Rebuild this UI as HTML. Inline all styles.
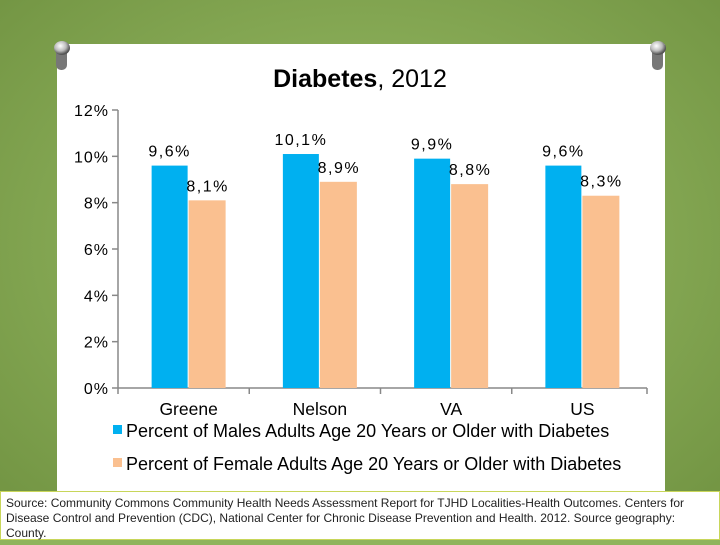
<!DOCTYPE html>
<html><head><meta charset="utf-8"><style>
body{margin:0;width:720px;height:540px;overflow:hidden;background:#8fb45c;font-family:"Liberation Sans",sans-serif}
</style></head><body>
<svg width="720" height="540" viewBox="0 0 720 540">
<defs>
<radialGradient id="bg" cx="50%" cy="45%" r="75%"><stop offset="0" stop-color="#9cc068"/><stop offset="1" stop-color="#6f9140"/></radialGradient>
<radialGradient id="pin" cx="40%" cy="35%" r="60%"><stop offset="0" stop-color="#fff"/><stop offset="0.6" stop-color="#bbb"/><stop offset="1" stop-color="#555"/></radialGradient>
</defs>
<rect width="720" height="540" fill="url(#bg)"/>
<rect x="60" y="496" width="610" height="10" fill="#3d4d25" opacity="0.5"/>
<rect x="57" y="44" width="608" height="450" fill="#fff"/>
<g><rect x="56" y="48" width="11" height="22" rx="5" fill="#777"/><ellipse cx="62" cy="48" rx="8" ry="7" fill="url(#pin)"/></g>
<g><rect x="652" y="48" width="11" height="22" rx="5" fill="#777"/><ellipse cx="658" cy="48" rx="8" ry="7" fill="url(#pin)"/></g>
<text x="360" y="87" text-anchor="middle" font-size="25" fill="#000"><tspan font-weight="bold">Diabetes</tspan>, 2012</text>
<g id="axes"></g>
<g id="bars"></g>
<g>
<rect x="113" y="425" width="9" height="9" fill="#00b0f0"/>
<text x="126" y="437" font-size="18" fill="#000">Percent of Males Adults Age 20 Years or Older with Diabetes</text>
<rect x="113" y="458" width="9" height="9" fill="#fac090"/>
<text x="126" y="470" font-size="18" fill="#000">Percent of Female Adults Age 20 Years or Older with Diabetes</text>
</g>
<rect x="0.5" y="491.5" width="719" height="48" fill="#fff" stroke="#c8d65a"/>
<text font-size="12" fill="#222"><tspan x="6" y="507">Source: Community Commons Community Health Needs Assessment Report for TJHD Localities-Health Outcomes. Centers for</tspan><tspan x="6" y="522">Disease Control and Prevention (CDC), National Center for Chronic Disease Prevention and Health. 2012. Source geography:</tspan><tspan x="6" y="537">County.</tspan></text>
</svg>
<script>
const categories=["Greene","Nelson","VA","US"];
const maleValues=[9.6,10.1,9.9,9.6];
const femaleValues=[8.1,8.9,8.8,8.3];
const maleLabels=["9,6%","10,1%","9,9%","9,6%"];
const femaleLabels=["8,1%","8,9%","8,8%","8,3%"];
const yTicks=[0,2,4,6,8,10,12];
const NS="http://www.w3.org/2000/svg";
const x0=118,x1=643,y0=388,y1=110,ymax=12;
const bw=(x1-x0)/categories.length;
const y=v=>y0-(v/ymax)*(y0-y1);
function mk(t,a,p){const e=document.createElementNS(NS,t);for(const k in a)e.setAttribute(k,a[k]);p.appendChild(e);return e;}
const ax=document.getElementById('axes'),bars=document.getElementById('bars');
const yl=mk('line',{x1:x0,y1:y1,x2:x0,y2:y0,stroke:'#888','stroke-width':1.5},ax);


const xl=mk('line',{x1:x0,y1:y0,x2:x0+bw*categories.length+4,y2:y0,stroke:'#888','stroke-width':1.5},ax);


yTicks.forEach(v=>{
 mk('line',{x1:x0-6,y1:y(v),x2:x0,y2:y(v),stroke:'#888','stroke-width':1.5},ax);
 const t=mk('text',{x:x0-9,y:y(v)+6,'text-anchor':'end','font-size':16,'letter-spacing':1,fill:'#000'},ax);
 t.textContent=v+'%';
 
 
});
for(let i=0;i<=categories.length;i++){mk('line',{x1:x0+i*bw+(i==categories.length?4:0),y1:y0,x2:x0+i*bw+(i==categories.length?4:0),y2:y0+6,stroke:'#888','stroke-width':1.5},ax);}
categories.forEach((c,i)=>{
 const cx=x0+bw*i+bw/2+5;
 const t=mk('text',{x:cx,y:y0+27,'text-anchor':'middle','font-size':17.5,fill:'#000'},ax);
 t.textContent=c;
 
 
 const mb=mk('rect',{x:cx-37,y:y(maleValues[i]),width:36,height:y0-y(maleValues[i]),fill:'#00b0f0'},bars);
 
 
 const fb=mk('rect',{x:cx,y:y(femaleValues[i]),width:37,height:y0-y(femaleValues[i]),fill:'#fac090'},bars);
 
 
 const ml=mk('text',{x:cx-19,y:y(maleValues[i])-9,'text-anchor':'middle','font-size':16,'letter-spacing':1.5,fill:'#000'},bars);
 ml.textContent=maleLabels[i];
 
 
 const fl=mk('text',{x:cx+19,y:y(femaleValues[i])-9,'text-anchor':'middle','font-size':16,'letter-spacing':1.5,fill:'#000'},bars);
 fl.textContent=femaleLabels[i];
 
 
});
</script>
</body></html>
